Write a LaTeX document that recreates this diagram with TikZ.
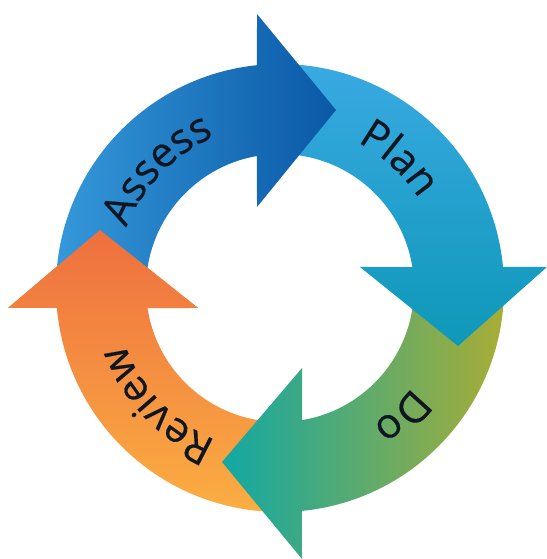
\documentclass[tikz,border=0pt]{standalone}
\usepackage{fontspec}
\setmainfont{Open Sans}[FakeBold=0.35]
\usetikzlibrary{calc,decorations.text}
\definecolor{assessA}{HTML}{3599DA}
\definecolor{assessB}{HTML}{0A58A6}
\definecolor{planA}{HTML}{39A9E2}
\definecolor{planB}{HTML}{0E98B8}
\definecolor{doA}{HTML}{12A8A4}
\definecolor{doB}{HTML}{A9AD35}
\definecolor{revA}{HTML}{EE6F3F}
\definecolor{revM}{HTML}{F29A58}
\definecolor{revB}{HTML}{FBAE42}
\definecolor{labelink}{HTML}{0E1622}
\newcommand{\labfont}{\fontsize{42}{42}\selectfont}
\tikzset{
  ringlabel/.style={decorate,decoration={text along path,
    text={|\labfont\color{labelink}|#1},text align={center}}},
  revshade/.style={top color=revA,middle color=revM,bottom color=revB}
}
\newcommand{\reviewarrow}{\path[revshade]
  ($(C)+(267.4:224)$) arc[start angle=267.4,end angle=185.1,radius=224]
  -- (8,251) -- (100,329) -- (198,251) -- ($(C)+(188.6:134)$)
  arc[start angle=188.6,end angle=265.7,radius=134] -- cycle;}
\begin{document}
\begin{tikzpicture}[x=1bp,y=1bp]
\useasboundingbox (0,0) rectangle (547,559);
\fill[white] (0,0) rectangle (547,559);
\coordinate (C) at (280,271);
% Review
\reviewarrow
% Do
\path[left color=doA,right color=doB]
  ($(C)+(0.8:224)$) arc[start angle=0.8,end angle=-84.4,radius=224]
  -- (302,0) -- (222,97) -- (302,191) -- ($(C)+(-80.5:134)$)
  arc[start angle=-80.5,end angle=-1.3,radius=134] -- cycle;
% Plan
\path[top color=planA,bottom color=planB]
  ($(C)+(88.7:224)$) arc[start angle=88.7,end angle=5.4,radius=224]
  -- (547,292) -- (458,213) -- (360,292) -- ($(C)+(9:134)$)
  arc[start angle=9,end angle=88,radius=134] -- cycle;
% Assess
\path[left color=assessA,right color=assessB]
  ($(C)+(181:224)$) arc[start angle=181,end angle=95.9,radius=224]
  -- (257,545) -- (336,449) -- (257,352) -- ($(C)+(99.9:134)$)
  arc[start angle=99.9,end angle=181,radius=134] -- cycle;
% Review head on top of Assess tail, same gradient as its arrow
\begin{scope}
  \clip (8,251) -- (100,329) -- (198,251) -- cycle;
  \reviewarrow
\end{scope}
% Labels
\path[ringlabel={Assess}] ($(C)+(186:165)$) arc[start angle=186,end angle=86,radius=165];
\path[ringlabel={Plan}] ($(C)+(87.4:165)$) arc[start angle=87.4,end angle=7.4,radius=165];
\path[ringlabel={Do}] ($(C)+(-6.5:165)$) arc[start angle=-6.5,end angle=-86.5,radius=165];
\path[ringlabel={Review}] ($(C)+(273.5:165)$) arc[start angle=273.5,end angle=173.5,radius=165];
\end{tikzpicture}
\end{document}
